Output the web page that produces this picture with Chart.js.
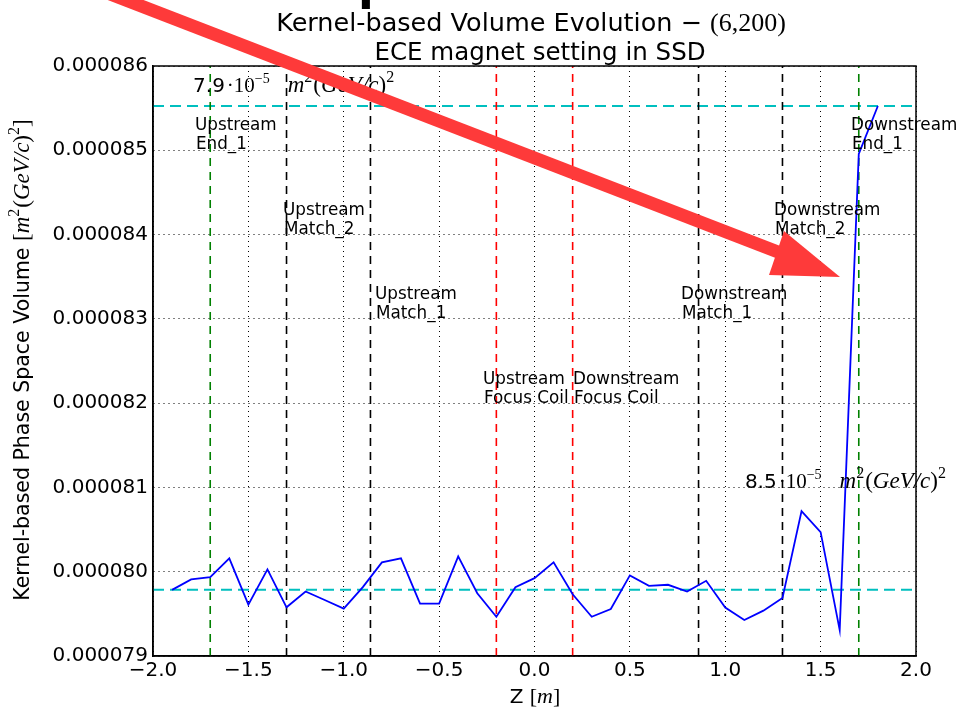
<!DOCTYPE html>
<html>
<head>
<meta charset="utf-8">
<script src="https://cdn.jsdelivr.net/npm/chart.js@4"></script>
<style>
  html, body { margin: 0; padding: 0; background: #ffffff; }
  #volumeChart { display: block; }
</style>
</head>
<body>
<canvas id="volumeChart" width="961" height="710"></canvas>
<script>
// Kernel-based volume evolution along Z

const zPos = [-1.9, -1.8, -1.7, -1.6, -1.5, -1.4, -1.3, -1.2, -1.1, -1.0,
              -0.9, -0.8, -0.7, -0.6, -0.5, -0.4, -0.3, -0.2, -0.1, 0.0,
              0.1, 0.2, 0.3, 0.4, 0.5, 0.6, 0.7, 0.8, 0.9, 1.0,
              1.1, 1.2, 1.3, 1.4, 1.5, 1.6, 1.7, 1.8];
const volume = [79.785e-6, 79.908e-6, 79.936e-6, 80.159e-6, 79.610e-6, 80.028e-6, 79.578e-6, 79.765e-6, 79.665e-6, 79.562e-6,
                79.817e-6, 80.111e-6, 80.159e-6, 79.621e-6, 79.621e-6, 80.183e-6, 79.745e-6, 79.466e-6, 79.817e-6, 79.924e-6,
                80.111e-6, 79.733e-6, 79.466e-6, 79.558e-6, 79.956e-6, 79.833e-6, 79.845e-6, 79.765e-6, 79.892e-6, 79.574e-6,
                79.427e-6, 79.538e-6, 79.689e-6, 80.720e-6, 80.470e-6, 79.307e-6, 84.956e-6, 85.525e-6];

// axis range
const zMin = -2.0, zMax = 2.0, zStep = 0.5;
const vMin = 79e-6, vMax = 86e-6, vStep = 1e-6;

// element positions (m)
const endZ = [-1.7, 1.7];
const matchZ = [-1.3, -0.86, 0.86, 1.3];
const focusZ = [-0.2, 0.2];

// element labels
const labelLines = [
    ['Upstream', 'End_1'], ['Upstream', 'Match_2'], ['Upstream', 'Match_1'], ['Upstream', 'Focus Coil'],
    ['Downstream', 'Focus Coil'], ['Downstream', 'Match_1'], ['Downstream', 'Match_2'], ['Downstream', 'End_1']
];
const labelZ = [-1.78, -1.318, -0.836, -0.27, 0.202, 0.768, 1.256, 1.659];
const labelV = [85.18e-6, 84.18e-6, 83.18e-6, 82.17e-6, 82.17e-6, 83.18e-6, 84.18e-6, 85.18e-6];

// start / end value notes
const noteNum = ['7.9', '8.5'];
const noteZ = [-1.79, 1.103];
const noteV = [85.69e-6, 80.994e-6];

const SANS = '"DejaVu Sans"';
const SERIF = '"Liberation Serif"';

function vline(z, color) {
    return {
        data: [{ x: z, y: vMin }, { x: z, y: vMax }],
        borderColor: color,
        borderWidth: 1.6,
        borderDash: [8, 6],
        pointRadius: 0,
        order: 2
    };
}

function hline(v) {
    return {
        data: [{ x: zMin, y: v }, { x: zMax, y: v }],
        borderColor: '#00bfbf',
        borderWidth: 2,
        borderDash: [11, 6],
        pointRadius: 0,
        order: 2
    };
}

// draw text made of several runs (different fonts, superscripts)
function drawRuns(ctx, x, y, runs, align) {
    let total = 0;
    runs.forEach(r => {
        ctx.font = r.f;
        r.w = ctx.measureText(r.t).width + (r.gap || 0);
        total += r.w;
    });
    let cx = align === 'center' ? x - total / 2 : x;
    runs.forEach(r => {
        ctx.font = r.f;
        ctx.fillText(r.t, cx, y + (r.dy || 0));
        cx += r.w;
    });
}

function unitRuns(size) {
    const sup = Math.round(size * 0.68);
    return [
        { t: 'm', f: 'italic ' + size + 'px ' + SERIF },
        { t: '2', f: sup + 'px ' + SERIF, dy: -size * 0.42, gap: 1 },
        { t: '(', f: size + 'px ' + SERIF },
        { t: 'GeV/c', f: 'italic ' + size + 'px ' + SERIF },
        { t: ')', f: size + 'px ' + SERIF },
        { t: '2', f: sup + 'px ' + SERIF, dy: -size * 0.42 }
    ];
}

const textPlugin = {
    id: 'textPlugin',
    afterDraw(chart) {
        const ctx = chart.ctx;
        const xs = chart.scales.x, ys = chart.scales.y;
        const area = chart.chartArea;
        ctx.save();

        // frame
        ctx.strokeStyle = '#000000';
        ctx.lineWidth = 1.5;
        ctx.setLineDash([]);
        ctx.strokeRect(area.left, area.top, area.right - area.left, area.bottom - area.top);

        ctx.fillStyle = '#000000';

        // element labels
        ctx.font = '16.8px ' + SANS;
        ctx.textAlign = 'left';
        ctx.textBaseline = 'middle';
        labelLines.forEach((lines, i) => {
            const px = xs.getPixelForValue(labelZ[i]);
            const py = ys.getPixelForValue(labelV[i]);
            ctx.fillText(lines[0], px, py - 9);
            ctx.fillText(lines[1], px + 1, py + 10);
        });

        // notes
        ctx.textBaseline = 'alphabetic';
        noteNum.forEach((num, i) => {
            const px = xs.getPixelForValue(noteZ[i]);
            const py = ys.getPixelForValue(noteV[i]);
            const runs = [
                { t: num, f: '20px ' + SANS, gap: 2 },
                { t: '·10', f: '21px ' + SERIF },
                { t: '−5', f: '14px ' + SERIF, dy: -9, gap: 18 }
            ].concat(unitRuns(23));
            drawRuns(ctx, px, py, runs, 'left');
        });

        // title
        drawRuns(ctx, 531, 31, [
            { t: 'Kernel-based Volume Evolution ', f: '25.5px ' + SANS },
            { t: '− ', f: '25.5px ' + SANS },
            { t: '(6,200)', f: '26px ' + SERIF }
        ], 'center');
        drawRuns(ctx, 540, 60, [
            { t: 'ECE magnet setting in SSD', f: '24.5px ' + SANS }
        ], 'center');

        // x axis title
        drawRuns(ctx, 535, 703, [
            { t: 'Z ', f: '20px ' + SANS },
            { t: '[', f: '22px ' + SERIF },
            { t: 'm', f: 'italic 22px ' + SERIF },
            { t: ']', f: '22px ' + SERIF }
        ], 'center');

        // y axis title
        ctx.save();
        ctx.translate(29, 360);
        ctx.rotate(-Math.PI / 2);
        drawRuns(ctx, 0, 0, [
            { t: 'Kernel-based Phase Space Volume ', f: '20.5px ' + SANS },
            { t: '[', f: '23px ' + SERIF }
        ].concat(unitRuns(23)).concat([{ t: ']', f: '23px ' + SERIF }]), 'center');
        ctx.restore();

        // clipped text at the top edge
        ctx.font = 'bold 46px ' + SANS;
        ctx.fillText('p', 358, -1);

        // red arrow overlay
        ctx.strokeStyle = '#fe3a3a';
        ctx.fillStyle = '#fe3a3a';
        ctx.lineWidth = 13;
        ctx.beginPath();
        ctx.moveTo(110, -6);
        ctx.lineTo(778, 252);
        ctx.stroke();
        ctx.beginPath();
        ctx.moveTo(784, 231);
        ctx.lineTo(769, 275);
        ctx.lineTo(840, 277);
        ctx.closePath();
        ctx.fill();

        ctx.restore();
    }
};

const ctx = document.getElementById('volumeChart').getContext('2d');

const datasets = [{
    data: zPos.map((z, i) => ({ x: z, y: volume[i] })),
    borderColor: '#0000ff',
    borderWidth: 1.8,
    pointRadius: 0,
    tension: 0,
    order: 1
}];
endZ.forEach(z => datasets.push(vline(z, '#008000')));
matchZ.forEach(z => datasets.push(vline(z, '#000000')));
focusZ.forEach(z => datasets.push(vline(z, '#ff0000')));
datasets.push(hline(volume[0]));
datasets.push(hline(volume[volume.length - 1]));

new Chart(ctx, {
    type: 'line',
    data: { datasets: datasets },
    options: {
        responsive: false,
        animation: false,
        layout: { padding: { left: 0, top: 66, right: 45, bottom: 0 } },
        plugins: {
            legend: { display: false },
            tooltip: { enabled: false },
            title: { display: false }
        },
        scales: {
            x: {
                type: 'linear',
                min: zMin,
                max: zMax,
                afterFit: function(scale) { scale.height = 54; },
                ticks: {
                    stepSize: zStep,
                    color: '#000000',
                    padding: 3,
                    maxRotation: 0,
                    font: { family: 'DejaVu Sans', size: 20 },
                    callback: function(value) {
                        return (value < 0 ? '−' : '') + Math.abs(value).toFixed(1);
                    }
                },
                grid: { color: '#000000', lineWidth: 1, drawTicks: false },
                border: { display: true, color: '#000000', width: 1.5, dash: [1, 4] }
            },
            y: {
                type: 'linear',
                min: vMin,
                max: vMax,
                afterFit: function(scale) { scale.width = 153; },
                ticks: {
                    stepSize: vStep,
                    color: '#000000',
                    padding: 5,
                    font: { family: 'DejaVu Sans', size: 20 },
                    callback: function(value) {
                        return value.toFixed(6);
                    }
                },
                grid: { color: '#000000', lineWidth: 1, drawTicks: false },
                border: { display: true, color: '#000000', width: 1.5, dash: [1, 4] }
            }
        }
    },
    plugins: [textPlugin]
});
</script>
</body>
</html>
